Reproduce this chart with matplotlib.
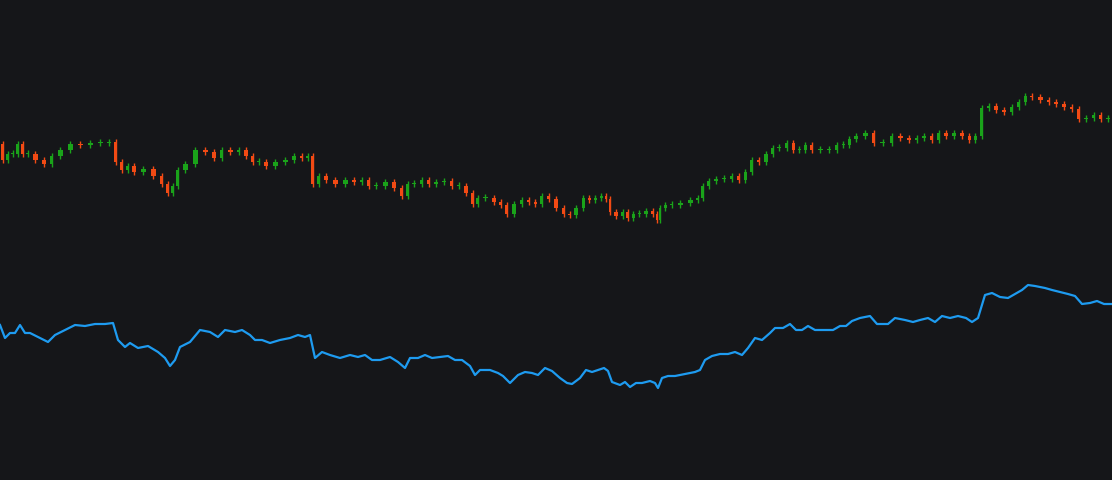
import matplotlib
matplotlib.use("Agg")
import matplotlib.pyplot as plt

t = [0,5,10,15,20,25,30,40,48,55,65,75,85,95,105,113,118,125,130,138,148,158,165,170,175,180,190,200,210,218,225,235,242,250,255,262,270,280,290,298,305,310,315,322,330,340,350,358,365,372,380,390,398,405,410,418,425,432,440,448,455,462,470,475,480,490,498,503,510,518,525,532,538,545,552,560,567,572,580,586,592,598,604,608,612,620,625,630,636,642,650,655,658,662,668,675,685,695,700,705,712,720,728,735,742,748,755,762,770,775,783,790,796,802,808,815,825,833,840,846,852,860,870,877,888,895,905,913,920,928,935,942,950,958,966,972,978,985,992,1000,1008,1015,1022,1028,1035,1045,1052,1060,1068,1075,1082,1090,1097,1104,1112]
ypix = [325,338,333,333,325,333,333,338,342,335,330,325,326,324,324,323,340,347,343,348,346,352,358,366,360,347,342,330,332,337,330,332,330,335,340,340,343,340,338,335,337,335,358,352,355,358,355,357,355,360,360,357,362,368,358,358,355,358,357,356,360,360,366,375,370,370,373,376,383,375,372,373,375,368,371,378,383,384,378,370,372,370,368,371,382,385,382,387,383,383,381,383,388,378,376,376,374,372,370,360,356,354,354,352,355,348,338,340,333,328,328,324,330,330,326,330,330,330,326,326,321,318,316,324,324,318,320,322,320,318,322,316,318,316,318,322,318,295,293,297,298,294,290,285,286,288,290,292,294,296,304,303,301,304,304]
price = [480 - y for y in ypix]

BG = "#151619"
UP = "#1aa31a"
DOWN = "#f24a14"
LINE = "#1e9bf0"

fig = plt.figure(figsize=(11.12, 4.8), dpi=100, facecolor=BG)
ax = fig.add_axes([0, 0, 1, 1], facecolor=BG)
ax.plot(t, price, color=LINE, lw=1.6)
ax.set_xlim(0, 1112)
ax.set_ylim(0, 480)
ax.axis("off")

ax2 = ax.twinx()
ax2.set_ylim(-125, 275)
ax2.axis("off")
for i in range(1, len(t)):
    o, c = price[i - 1], price[i]
    col = UP if c >= o else DOWN
    lo, hi = min(o, c), max(o, c)
    if hi - lo < 0.8:
        hi = lo + 0.8
    x = (t[i - 1] + t[i]) / 2
    w = (t[i] - t[i - 1]) * 0.5
    ax2.vlines(x, lo - 2.5, hi + 2.5, color=col, lw=1)
    ax2.bar(x, hi - lo, bottom=lo, width=w, color=col, linewidth=0)

fig.savefig("out.png", dpi=100, facecolor=BG)
